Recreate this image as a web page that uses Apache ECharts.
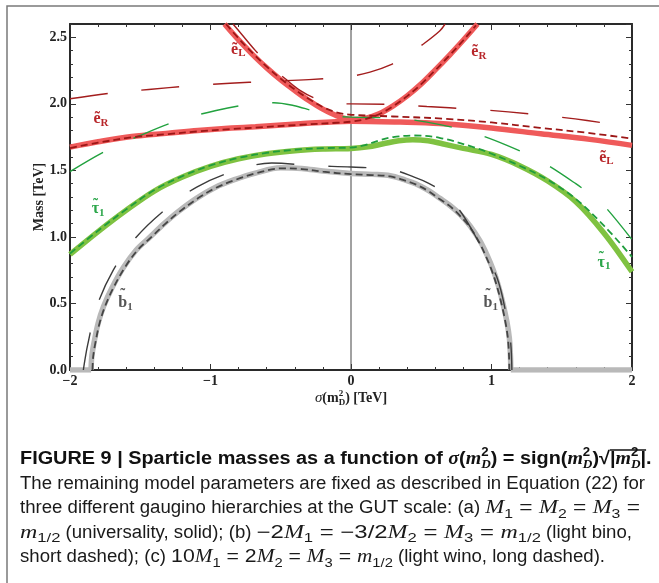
<!DOCTYPE html>
<html><head><meta charset="utf-8">
<script src="https://cdn.jsdelivr.net/npm/echarts/dist/echarts.min.js"></script>
<style>html,body{margin:0;padding:0;background:#fff}#c{width:659px;height:583px}</style>
</head><body><div id="c"></div>
<script>
// ================= DATA =================
const xTicks = [-2, -1, 0, 1, 2];
const yTicks = [0, 0.5, 1.0, 1.5, 2.0, 2.5];

// --- selectrons (red) ---
// (a) universality, solid
const eSolidLowX = [-2, -1.8, -1.56, -1.3, -1.09, -0.85, -0.68, -0.36, 0, 0.35, 0.63, 1.0, 1.35, 1.7, 2.0];
const eSolidLowY = [1.675, 1.715, 1.755, 1.78, 1.80, 1.818, 1.828, 1.85, 1.87, 1.863, 1.852, 1.818, 1.775, 1.733, 1.688];
const eSolidUpX = [-0.90, -0.80, -0.70, -0.60, -0.50, -0.40, -0.30, -0.20, -0.10, 0, 0.10, 0.20, 0.30, 0.40, 0.50, 0.60, 0.70, 0.80, 0.90];
const eSolidUpY = [2.60, 2.48, 2.37, 2.27, 2.18, 2.10, 2.025, 1.96, 1.91, 1.882, 1.89, 1.925, 1.985, 2.06, 2.15, 2.255, 2.365, 2.48, 2.60];
// (b) light bino, short dashed
const eShortUpX = [-0.89, -0.79, -0.69, -0.59, -0.49, -0.39, -0.29, -0.19, -0.09, 0, 0.3, 0.67, 1.0, 1.345, 1.7, 2.0];
const eShortUpY = [2.60, 2.48, 2.37, 2.27, 2.18, 2.10, 2.03, 1.97, 1.932, 1.918, 1.905, 1.888, 1.86, 1.82, 1.78, 1.738];
const eShortLowX = [-2, -1.8, -1.56, -1.3, -1.09, -0.85, -0.68, -0.36, -0.1, 0, 0.10, 0.20, 0.30, 0.40, 0.50, 0.60, 0.70, 0.80, 0.89];
const eShortLowY = [1.668, 1.708, 1.748, 1.773, 1.793, 1.811, 1.821, 1.843, 1.858, 1.866, 1.885, 1.922, 1.982, 2.058, 2.148, 2.253, 2.363, 2.478, 2.59];
// (c) light wino, long dashed
const eLongUpX = [-0.84, -0.78, -0.68, -0.58, -0.47, -0.36, -0.23, -0.09, 0, 0.29, 0.54, 0.86, 1.12, 1.42, 1.68, 1.96, 2.0];
const eLongUpY = [2.60, 2.525, 2.40, 2.288, 2.19, 2.10, 2.03, 2.0, 2.0, 1.995, 1.98, 1.96, 1.94, 1.908, 1.875, 1.83, 1.822];
const eLongLowX = [-2, -1.715, -1.44, -1.15, -0.86, -0.59, -0.3, 0, 0.135, 0.28, 0.4, 0.515, 0.633, 0.67];
const eLongLowY = [2.038, 2.08, 2.108, 2.135, 2.155, 2.168, 2.182, 2.208, 2.238, 2.293, 2.365, 2.45, 2.55, 2.60];

// --- stau (green) ---
const tSolidX = [-2, -1.8, -1.6, -1.4, -1.2, -1.0, -0.8, -0.6, -0.4, -0.2, 0, 0.12, 0.23, 0.34, 0.44, 0.55, 0.65, 0.8, 1.0, 1.2, 1.4, 1.6, 1.8, 2.0];
const tSolidY = [0.868, 1.04, 1.20, 1.345, 1.45, 1.53, 1.587, 1.625, 1.648, 1.66, 1.665, 1.677, 1.70, 1.722, 1.73, 1.722, 1.70, 1.665, 1.62, 1.535, 1.42, 1.265, 1.03, 0.738];
const tShortX = [-2, -1.8, -1.6, -1.4, -1.2, -1.0, -0.8, -0.6, -0.4, -0.2, 0, 0.1, 0.2, 0.3, 0.45, 0.63, 0.87, 1.0, 1.2, 1.4, 1.6, 1.8, 2.0];
const tShortY = [0.875, 1.047, 1.207, 1.352, 1.457, 1.537, 1.594, 1.632, 1.655, 1.667, 1.672, 1.69, 1.725, 1.75, 1.762, 1.745, 1.675, 1.625, 1.535, 1.43, 1.285, 1.085, 0.85];
const tLongX = [-2, -1.75, -1.5, -1.23, -0.96, -0.7, -0.55, -0.41, -0.28, -0.15, 0, 0.29, 0.54, 0.85, 1.11, 1.36, 1.6, 1.75, 1.82, 2.0];
const tLongY = [1.49, 1.643, 1.763, 1.875, 1.95, 2.0, 2.008, 1.988, 1.95, 1.912, 1.90, 1.893, 1.863, 1.788, 1.688, 1.563, 1.40, 1.28, 1.213, 0.98];

// --- sbottom (gray) ---
const bSolidX = [-1.85, -1.845, -1.83, -1.80, -1.76, -1.70, -1.62, -1.53, -1.44, -1.33, -1.23, -1.10, -0.97, -0.83, -0.68, -0.5, -0.35, -0.2, 0, 0.15, 0.28, 0.38, 0.46, 0.55, 0.633, 0.70, 0.776, 0.85, 0.918, 0.97, 1.013, 1.05, 1.084, 1.11, 1.127, 1.135, 1.137];
const bSolidY = [0, 0.1, 0.2, 0.35, 0.48, 0.62, 0.77, 0.90, 0.99, 1.10, 1.19, 1.29, 1.37, 1.43, 1.48, 1.52, 1.515, 1.495, 1.477, 1.47, 1.46, 1.43, 1.40, 1.35, 1.29, 1.24, 1.17, 1.08, 0.97, 0.86, 0.75, 0.63, 0.49, 0.36, 0.24, 0.1, 0];
const bFlatLeftX = [-2, -1.85];
const bFlatLeftY = [0, 0];
const bFlatRightX = [1.137, 2];
const bFlatRightY = [0, 0];
const bShortX = [-1.84, -1.835, -1.82, -1.79, -1.75, -1.69, -1.61, -1.52, -1.43, -1.32, -1.22, -1.09, -0.96, -0.82, -0.67, -0.5, -0.35, -0.2, 0, 0.15, 0.28, 0.38, 0.46, 0.55, 0.63, 0.70, 0.77, 0.845, 0.91, 0.96, 1.003, 1.04, 1.074, 1.10, 1.117, 1.125, 1.127];
const bShortY = [0, 0.1, 0.2, 0.35, 0.48, 0.62, 0.77, 0.90, 0.99, 1.10, 1.19, 1.29, 1.37, 1.43, 1.48, 1.515, 1.51, 1.49, 1.472, 1.465, 1.455, 1.425, 1.395, 1.345, 1.285, 1.235, 1.165, 1.075, 0.965, 0.855, 0.745, 0.625, 0.485, 0.355, 0.235, 0.1, 0];
const bLongX = [-1.905, -1.89, -1.874, -1.81, -1.692, -1.537, -1.329, -1.098, -0.838, -0.564, -0.273, 0, 0.29, 0.45, 0.55, 0.633, 0.764, 0.895, 1.037, 1.108, 1.136, 1.145];
const bLongY = [0, 0.1, 0.19, 0.475, 0.75, 0.988, 1.2, 1.375, 1.493, 1.555, 1.535, 1.525, 1.505, 1.45, 1.405, 1.35, 1.213, 0.988, 0.70, 0.40, 0.213, 0];

// vertical reference line at sigma = 0
const zeroLineX = [0, 0];
const zeroLineY = [0, 2.6];

// curve labels (text, subscript, anchor in data units)
const lblMain = ['ẽ', 'ẽ', 'ẽ', 'ẽ', 'τ̃', 'τ̃', 'b̃', 'b̃'];
const lblSub = ['L', 'R', 'R', 'L', '1', '1', '1', '1'];
const lblX = [-0.81, -1.79, 0.90, 1.81, -1.80, 1.80, -1.60, 1.00];
const lblY = [2.40, 1.88, 2.38, 1.59, 1.20, 0.80, 0.495, 0.495];
const lblKind = ['red', 'red', 'red', 'red', 'grn', 'grn', 'gry', 'gry'];

// ================= STYLE =================
const COL = {
  redSolid: '#ef5a5a', redShort: '#9c1616', redLong: '#a31d1d',
  grnSolid: '#7fc241', grnShort: '#1f9d3d', grnLong: '#22a23f',
  grySolid: '#b9b9b9', gryShort: '#454545', gryLong: '#3c3c3c',
  red: '#b8262a', grn: '#2ba64a', gry: '#555555'
};
const SERIF = "'Liberation Serif','DejaVu Serif',serif";
const SANS = "'Liberation Sans','DejaVu Sans',sans-serif";

function pts(xs, ys) { return xs.map((x, i) => [x, ys[i]]); }
function mk(xs, ys, color, kind, smooth) {
  const w = kind === 'solid' ? 5.5 : (kind === 'short' ? 1.8 : 1.4);
  const t = kind === 'solid' ? 'solid' : (kind === 'short' ? [7, 4] : [38, 34]);
  return {
    type: 'line', data: pts(xs, ys), xAxisIndex: 0, yAxisIndex: 0,
    symbol: 'none', smooth: smooth === undefined ? 0.35 : smooth, silent: true, animation: false,
    z: kind === 'solid' ? 2 : 3,
    lineStyle: { color: color, width: w, type: t, cap: 'butt' }
  };
}

const series = [
  { type: 'line', data: pts(zeroLineX, zeroLineY), symbol: 'none', silent: true, animation: false, z: 1,
    lineStyle: { color: '#444', width: 1 } },
  mk(bFlatLeftX, bFlatLeftY, COL.grySolid, 'solid', false),
  mk(bFlatRightX, bFlatRightY, COL.grySolid, 'solid', false),
  mk(bSolidX, bSolidY, COL.grySolid, 'solid'),
  mk(tSolidX, tSolidY, COL.grnSolid, 'solid'),
  mk(eSolidLowX, eSolidLowY, COL.redSolid, 'solid'),
  mk(eSolidUpX, eSolidUpY, COL.redSolid, 'solid'),
  mk(bShortX, bShortY, COL.gryShort, 'short'),
  mk(bLongX, bLongY, COL.gryLong, 'long'),
  mk(tShortX, tShortY, COL.grnShort, 'short'),
  mk(tLongX, tLongY, COL.grnLong, 'long'),
  mk(eShortLowX, eShortLowY, COL.redShort, 'short'),
  mk(eShortUpX, eShortUpY, COL.redShort, 'short'),
  mk(eLongLowX, eLongLowY, COL.redLong, 'long'),
  mk(eLongUpX, eLongUpY, COL.redLong, 'long')
];

const axLine = { show: true, onZero: false, lineStyle: { color: '#2a2a2a', width: 2 } };
const tickStyle = { color: '#333', width: 1 };
const tickLabel = { fontFamily: SERIF, fontWeight: 'bold', fontSize: 14, color: '#222' };

function xAx(pos, labels) {
  return {
    type: 'value', min: xTicks[0], max: xTicks[xTicks.length - 1], interval: 1, position: pos,
    axisLine: axLine, splitLine: { show: false },
    axisTick: { show: true, inside: true, length: 6, lineStyle: tickStyle },
    minorTick: { show: true, splitNumber: 5, length: 3, lineStyle: tickStyle },
    minorSplitLine: { show: false },
    axisLabel: labels ? Object.assign({ margin: 4, formatter: v => v < 0 ? '\u2212' + (-v) : String(v) }, tickLabel) : { show: false }
  };
}
function yAx(pos, labels, minor) {
  return {
    type: 'value', min: 0, max: 2.6, interval: minor ? 0.1 : 0.5, position: pos,
    axisLine: minor ? { show: false, onZero: false } : axLine, splitLine: { show: false },
    axisTick: { show: true, inside: true, length: minor ? 3 : 6, lineStyle: tickStyle },
    axisLabel: labels ? Object.assign({ margin: 3, showMaxLabel: false, formatter: v => yTicks.includes(+v.toFixed(1)) ? v.toFixed(1) : '' }, tickLabel) : { show: false }
  };
}

const chart = echarts.init(document.getElementById('c'), null, { renderer: 'canvas' });
chart.setOption({
  backgroundColor: '#fff',
  animation: false,
  grid: { left: 70, top: 24, right: 27, bottom: 213, containLabel: false, outerBoundsMode: 'none' },
  xAxis: [xAx('bottom', true), xAx('top', false)],
  yAxis: [yAx('left', true, false), yAx('right', false, false), yAx('left', false, true), yAx('right', false, true)],
  series: series
});

// ================= TEXT LAYOUT =================
const cv = document.createElement('canvas').getContext('2d');
function tw(t, f) { cv.font = f; return cv.measureText(t).width; }
function fsOf(f) { const m = f.match(/(\d+(?:\.\d+)?)px/); return m ? +m[1] : 14; }
// sr: scale of regular segments, sm: scale of math segments
function layout(segs, sr, sm) {
  let x = 0, lastStart = 0; const items = [];
  segs.forEach(s => {
    const sc = s.m ? sm : sr;
    const w = tw(s.t, s.f) * sc;
    let sx;
    if (s.stack) { sx = lastStart; x = Math.max(x, sx + w); }
    else { sx = x; lastStart = x; x += w; }
    items.push(Object.assign({}, s, { x: sx, w: w, sc: sc }));
  });
  return { items: items, width: x };
}
function widths(segs) {
  let r = 0, m = 0;
  segs.forEach(s => { if (!s.stack) { const w = tw(s.t, s.f); if (s.m) m += w; else r += w; } });
  return { r: r, m: m };
}
function emit(lay, x0, base, color, out) {
  lay.items.forEach(it => {
    const fs = fsOf(it.f);
    out.push({ type: 'text', x: x0 + it.x, y: base + (it.dy || 0) - 0.34 * fs, scaleX: it.sc, silent: true, z: 10,
      style: { text: it.t, font: it.f, fill: color, textAlign: 'left', textVerticalAlign: 'middle', verticalAlign: 'middle' } });
  });
}

const G = [];
// outer frame
G.push({ type: 'polyline', silent: true, shape: { points: [[7, 583], [7, 6], [659, 6]] }, style: { stroke: '#7a7a7a', lineWidth: 1.5, fill: null } });

// y axis name
G.push({ type: 'text', x: 39, y: 197, rotation: Math.PI / 2, silent: true,
  style: { text: 'Mass [TeV]', font: "bold 14px " + SERIF, fill: '#222', textAlign: 'center', textVerticalAlign: 'middle', verticalAlign: 'middle' } });

// x axis name: σ(m_D^2) [TeV]
const xb = "bold 14px " + SERIF, xs = "bold 9px " + SERIF;
const xname = layout([
  { t: 'σ', f: "italic 15px " + SERIF }, { t: '(m', f: xb },
  { t: '2', f: xs, dy: -6 }, { t: 'D', f: xs, dy: 3, stack: true },
  { t: ') [TeV]', f: xb }
], 1, 1);
emit(xname, 351 - xname.width / 2, 403, '#222', G);

// curve labels
const LF = "bold 16px " + SERIF;
lblMain.forEach((m, i) => {
  const p = chart.convertToPixel({ xAxisIndex: 0, yAxisIndex: 0 }, [lblX[i], lblY[i]]);
  const c = COL[lblKind[i]];
  const hasTilde = m.indexOf('\u0303') >= 0;
  const base = m.replace('\u0303', '');
  G.push({ type: 'text', x: p[0] + 1, y: p[1] - 1, silent: true, z: 10,
    style: { text: base, font: LF, fill: c, textAlign: 'right', textVerticalAlign: 'middle', verticalAlign: 'middle' } });
  if (hasTilde) {
    const w = tw(base, LF);
    const top = base === 'b' ? p[1] - 10 : p[1] - 6;
    G.push({ type: 'text', x: p[0] + 1 - w / 2, y: top, silent: true, z: 10,
      style: { text: '\u02DC', font: "bold 15px " + SERIF, fill: c, textAlign: 'center', textVerticalAlign: 'middle', verticalAlign: 'middle' } });
  }
  G.push({ type: 'text', x: p[0] + 1, y: p[1] + 3, silent: true, z: 10,
    style: { text: lblSub[i], font: "bold 11px " + SERIF, fill: c, textAlign: 'left', textVerticalAlign: 'middle', verticalAlign: 'middle' } });
});

// caption
const B = "bold 18px " + SANS, BI = "bold italic 18px " + SERIF, BS = "bold 12px " + SANS, BSI = "bold italic 12px " + SERIF;
const R = "18px " + SANS, I = "italic 18px " + SERIF, S = "12.5px " + SANS;
const cap1 = [
  { t: 'FIGURE 9 | Sparticle masses as a function of ', f: B }, { t: 'σ', f: BI }, { t: '(', f: B }, { t: 'm', f: BI },
  { t: '2', f: BS, dy: -8 }, { t: 'D', f: BSI, dy: 4, stack: true }, { t: ') = sign(', f: B }, { t: 'm', f: BI },
  { t: '2', f: BS, dy: -8 }, { t: 'D', f: BSI, dy: 4, stack: true }, { t: ')√', f: B }, { t: '|', f: B, mark: 'ovS' }, { t: 'm', f: BI },
  { t: '2', f: BS, dy: -8 }, { t: 'D', f: BSI, dy: 4, stack: true }, { t: '|', f: B, mark: 'ovE' }, { t: '.', f: B }
];
const cap2 = [{ t: 'The remaining model parameters are fixed as described in Equation (22) for', f: R }];
const EQ = ' = ';
const cap3 = [
  { t: 'three different gaugino hierarchies at the GUT scale: (a) ', f: R }, { t: 'M', f: I, m: 1 }, { t: '1', f: S, dy: 4, m: 1 },
  { t: EQ, f: R, m: 1 }, { t: 'M', f: I, m: 1 }, { t: '2', f: S, dy: 4, m: 1 }, { t: EQ, f: R, m: 1 }, { t: 'M', f: I, m: 1 }, { t: '3', f: S, dy: 4, m: 1 }, { t: ' =', f: R, m: 1 }
];
const cap4 = [
  { t: 'm', f: I, m: 1 }, { t: '1/2', f: S, dy: 4, m: 1 }, { t: ' (universality, solid); (b) ', f: R }, { t: '\u22122', f: R, m: 1 }, { t: 'M', f: I, m: 1 }, { t: '1', f: S, dy: 4, m: 1 },
  { t: ' = \u22123/2', f: R, m: 1 }, { t: 'M', f: I, m: 1 }, { t: '2', f: S, dy: 4, m: 1 }, { t: EQ, f: R, m: 1 }, { t: 'M', f: I, m: 1 }, { t: '3', f: S, dy: 4, m: 1 },
  { t: EQ, f: R, m: 1 }, { t: 'm', f: I, m: 1 }, { t: '1/2', f: S, dy: 4, m: 1 }, { t: ' (light bino,', f: R }
];
const cap5 = [
  { t: 'short dashed); (c) ', f: R }, { t: '10', f: R, m: 1 }, { t: 'M', f: I, m: 1 }, { t: '1', f: S, dy: 4, m: 1 }, { t: ' = 2', f: R, m: 1 }, { t: 'M', f: I, m: 1 }, { t: '2', f: S, dy: 4, m: 1 },
  { t: EQ, f: R, m: 1 }, { t: 'M', f: I, m: 1 }, { t: '3', f: S, dy: 4, m: 1 }, { t: EQ, f: R, m: 1 }, { t: 'm', f: I, m: 1 }, { t: '1/2', f: S, dy: 4, m: 1 },
  { t: ' (light wino, long dashed).', f: R }
];
const W1 = widths(cap1), W2 = widths(cap2);
const s1 = 625 / (W1.r + W1.m), s2 = 625 / W2.r;
const L1 = layout(cap1, s1, s1);
emit(L1, 20, 465, '#111', G);
const ovS = L1.items.find(it => it.mark === 'ovS'), ovE = L1.items.find(it => it.mark === 'ovE');
G.push({ type: 'line', silent: true, shape: { x1: 20 + ovS.x, y1: 450, x2: 20 + ovE.x + ovE.w, y2: 450 }, style: { stroke: '#111', lineWidth: 1.3 } });
emit(layout(cap2, s2, s2), 20, 490, '#1a1a1a', G);
function fitLine(segs, target, base) {
  const W = widths(segs);
  let sm = (target - W.r * s2) / W.m;
  sm = Math.max(0.8, Math.min(1.35, sm));
  emit(layout(segs, s2, sm), 20, base, '#1a1a1a', G);
}
fitLine(cap3, 620, 514.5);
fitLine(cap4, 612, 539);
fitLine(cap5, 585, 563.5);

chart.setOption({ graphic: G });
</script></body></html>
